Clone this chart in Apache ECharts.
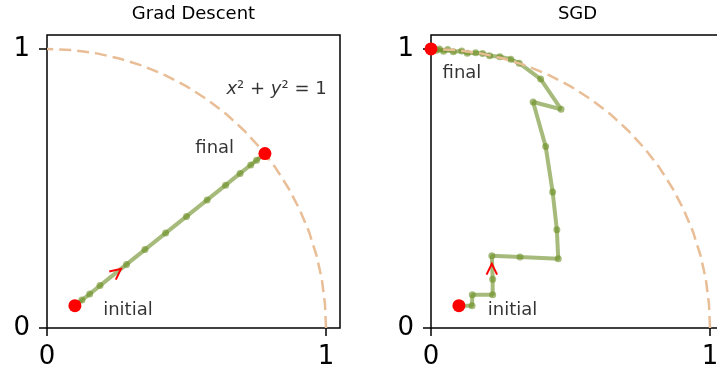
<!DOCTYPE html>
<html>
<head>
<meta charset="utf-8">
<script src="https://cdn.jsdelivr.net/npm/echarts@6/dist/echarts.min.js"></script>
<style>
  html, body { margin: 0; padding: 0; background: #fff; }
  #chart { width: 717px; height: 371px; }
</style>
</head>
<body>
<div id="chart"></div>
<script>
// Two panels: plain gradient descent vs SGD, both walking from the same
// start point onto the unit circle.

const panelTitles = ['Grad Descent', 'SGD'];
const tickValues = [0, 1];

// quarter of the unit circle, 5 degree steps
const circleX = [1, 0.996, 0.985, 0.966, 0.940, 0.906, 0.866, 0.819, 0.766, 0.707,
  0.643, 0.574, 0.5, 0.423, 0.342, 0.259, 0.174, 0.087, 0];
const circleY = [0, 0.087, 0.174, 0.259, 0.342, 0.423, 0.5, 0.574, 0.643, 0.707,
  0.766, 0.819, 0.866, 0.906, 0.940, 0.966, 0.985, 0.996, 1];

// gradient descent path
const gdX = [0.1, 0.125, 0.153, 0.19, 0.285, 0.351, 0.425, 0.5, 0.574, 0.64, 0.692, 0.73, 0.751, 0.781];
const gdY = [0.08, 0.1, 0.122, 0.152, 0.228, 0.281, 0.34, 0.4, 0.459, 0.512, 0.554, 0.584, 0.601, 0.625];

// SGD path (wobbles along the top of the circle near the end)
const sgdX = [0.1, 0.147, 0.148, 0.221, 0.221, 0.218, 0.319, 0.456, 0.451, 0.436, 0.411, 0.366,
  0.466, 0.393, 0.316, 0.286, 0.247, 0.21, 0.185, 0.16, 0.13, 0.11, 0.08, 0.06, 0.045,
  0.03, 0.02, 0.01, 0.005, 0];
const sgdY = [0.08, 0.08, 0.119, 0.119, 0.175, 0.259, 0.254, 0.248, 0.352, 0.487, 0.65, 0.81,
  0.784, 0.892, 0.949, 0.963, 0.972, 0.976, 0.984, 0.986, 0.985, 0.993, 0.99, 0.998, 0.992,
  1.0, 0.995, 1.0, 0.996, 1.0];

// start / end markers
const gdEnds = [[0.1, 0.08], [0.781, 0.625]];
const sgdEnds = [[0.1, 0.08], [0, 1]];

// arrow heads: tip x, tip y, direction dx, dy
const gdArrow = [0.265, 0.212, 1, 0.8];
const sgdArrow = [0.218, 0.23, 0, 1];

// text labels
const gdLabels = [
  { name: 'final', value: [0.601, 0.643] },
  { name: 'initial', value: [0.29, 0.063] },
  { name: 'circle', value: [0.8225, 0.855] },
];
const sgdLabels = [
  { name: 'final', value: [0.111, 0.912] },
  { name: 'initial', value: [0.292, 0.063] },
];

const FONT = 'DejaVu Sans';
const PATH_GREEN = '#6b8e23';
const CIRCLE_COLOR = '#e9bd96';

function zip(xs, ys) { return xs.map((x, i) => [x, ys[i]]); }

function axis(gridIndex, margin) {
  return {
    type: 'value', gridIndex: gridIndex, min: 0, max: 1.05, interval: 1,
    axisLine: { show: false },
    splitLine: { show: false },
    axisTick: { show: true, inside: false, length: 8, customValues: tickValues,
      lineStyle: { color: '#000', width: 1.5 } },
    axisLabel: { customValues: tickValues, fontSize: 26, color: '#000', fontFamily: FONT, margin: margin },
  };
}

function pathSeries(i, data) {
  return {
    type: 'line', xAxisIndex: i, yAxisIndex: i, data: data, z: 3,
    symbol: 'circle', symbolSize: 7, showSymbol: true,
    lineStyle: { color: PATH_GREEN, width: 4, opacity: 0.6 },
    itemStyle: { color: PATH_GREEN, opacity: 0.6 },
  };
}

function circleSeries(i) {
  return {
    type: 'line', xAxisIndex: i, yAxisIndex: i, data: zip(circleX, circleY), z: 4,
    symbol: 'none', lineStyle: { color: CIRCLE_COLOR, width: 2.5, type: [12, 6] },
  };
}

function endSeries(i, data) {
  return {
    type: 'scatter', xAxisIndex: i, yAxisIndex: i, data: data, z: 5,
    symbolSize: 13, itemStyle: { color: '#ff0000', opacity: 1 },
  };
}

function arrowSeries(i, a) {
  return {
    type: 'custom', xAxisIndex: i, yAxisIndex: i, data: [a], z: 6,
    encode: { x: 0, y: 1 },
    renderItem: function (params, api) {
      const tip = api.coord([api.value(0), api.value(1)]);
      const back = api.coord([api.value(0) - api.value(2) * 0.05, api.value(1) - api.value(3) * 0.05]);
      const ang = Math.atan2(back[1] - tip[1], back[0] - tip[0]);
      const L = 12, spread = 26 * Math.PI / 180;
      const p1 = [tip[0] + L * Math.cos(ang + spread), tip[1] + L * Math.sin(ang + spread)];
      const p2 = [tip[0] + L * Math.cos(ang - spread), tip[1] + L * Math.sin(ang - spread)];
      return {
        type: 'polyline',
        shape: { points: [p1, tip, p2] },
        style: { stroke: '#ff0000', lineWidth: 2, fill: null },
      };
    },
  };
}

function labelSeries(i, data) {
  return {
    type: 'scatter', xAxisIndex: i, yAxisIndex: i, data: data, z: 7,
    symbolSize: 1, itemStyle: { color: 'rgba(0,0,0,0)' },
    label: {
      show: true, position: 'inside', color: '#000', fontSize: 18, fontFamily: FONT,
      formatter: (p) => p.name === 'circle' ? '{i|x}² + {i|y}² = 1' : p.name,
      rich: { i: { fontStyle: 'italic', fontSize: 18, fontFamily: FONT, color: '#000' } },
    },
  };
}

const chart = echarts.init(document.getElementById('chart'), null, { renderer: 'canvas' });

chart.setOption({
  animation: false,
  backgroundColor: '#fff',
  title: panelTitles.map((t, i) => ({
    text: t, left: i === 0 ? 193.5 : 577.5, top: 5, textAlign: 'center', padding: 0,
    textStyle: { fontSize: 18, fontWeight: 'normal', color: '#000', fontFamily: FONT },
  })),
  grid: [
    { left: 47, top: 35, width: 293, height: 293, show: true, borderColor: '#000', borderWidth: 1.5,
      containLabel: false, outerBoundsMode: 'none' },
    { left: 431, top: 35, width: 293, height: 293, show: true, borderColor: '#000', borderWidth: 1.5,
      containLabel: false, outerBoundsMode: 'none' },
  ],
  xAxis: [axis(0, 16), axis(1, 16)],
  yAxis: [axis(0, 17), axis(1, 17)],
  series: [
    pathSeries(0, zip(gdX, gdY)),
    circleSeries(0),
    endSeries(0, gdEnds),
    arrowSeries(0, gdArrow),
    labelSeries(0, gdLabels),
    pathSeries(1, zip(sgdX, sgdY)),
    circleSeries(1),
    endSeries(1, sgdEnds),
    arrowSeries(1, sgdArrow),
    labelSeries(1, sgdLabels),
  ],
});

window.addEventListener('resize', () => chart.resize());
</script>
</body>
</html>
